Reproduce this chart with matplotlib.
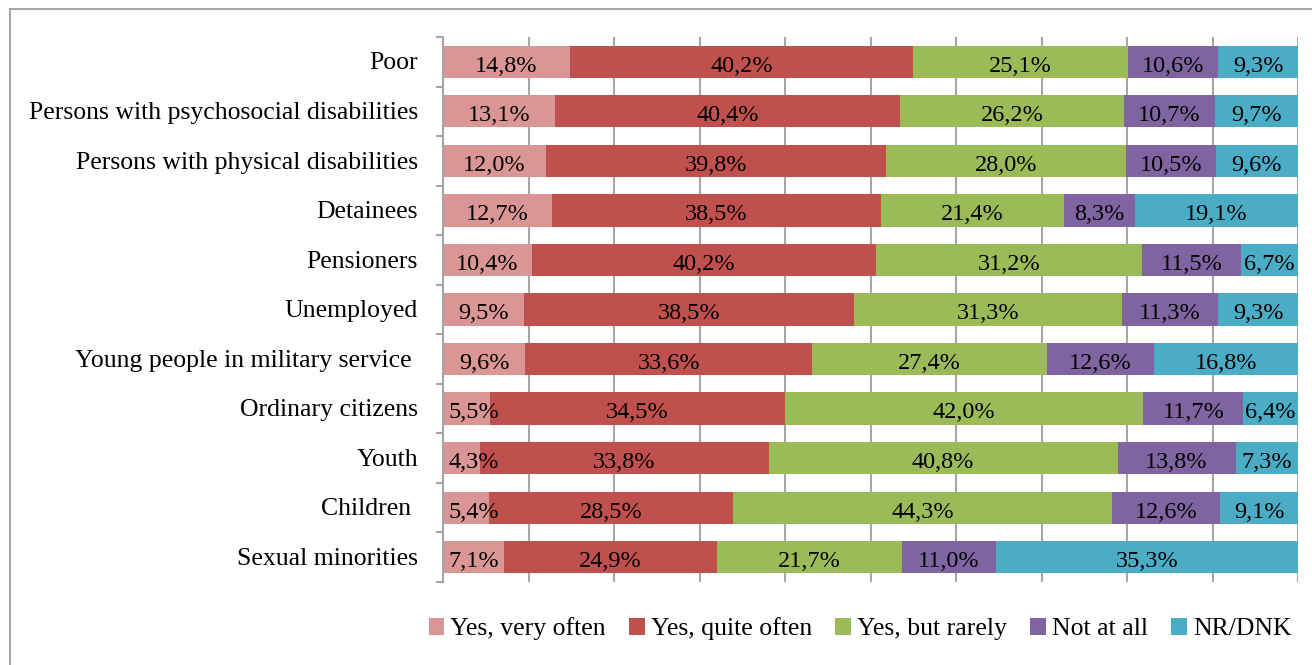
import numpy as np
import matplotlib
matplotlib.use("Agg")
import matplotlib.pyplot as plt
from matplotlib.patches import Patch, Rectangle

plt.rcParams['font.family'] = ['Liberation Serif', 'DejaVu Serif']

categories = ["Poor", "Persons with psychosocial disabilities", "Persons with physical disabilities",
              "Detainees", "Pensioners", "Unemployed", "Young people in military service ",
              "Ordinary citizens", "Youth", "Children ", "Sexual minorities"]
series_names = ["Yes, very often", "Yes, quite often", "Yes, but rarely", "Not at all", "NR/DNK"]
very_often = [14.8, 13.1, 12.0, 12.7, 10.4, 9.5, 9.6, 5.5, 4.3, 5.4, 7.1]
quite_often = [40.2, 40.4, 39.8, 38.5, 40.2, 38.5, 33.6, 34.5, 33.8, 28.5, 24.9]
but_rarely = [25.1, 26.2, 28.0, 21.4, 31.2, 31.3, 27.4, 42.0, 40.8, 44.3, 21.7]
not_at_all = [10.6, 10.7, 10.5, 8.3, 11.5, 11.3, 12.6, 11.7, 13.8, 12.6, 11.0]
nr_dnk = [9.3, 9.7, 9.6, 19.1, 6.7, 9.3, 16.8, 6.4, 7.3, 9.1, 35.3]
colors = ["#D99694", "#C0504D", "#9BBB59", "#8064A2", "#4BACC6"]

W, H = 1312, 665
fig = plt.figure(figsize=(W / 100, H / 100), dpi=100)
fig.patch.set_facecolor("white")
# outer chart border (cropped at right/bottom)
fig.add_artist(Rectangle((10 / W, -0.05), 1.2, 1 - 9 / H + 0.05, transform=fig.transFigure,
                         fill=False, edgecolor="#A6A6A6", linewidth=1.5))

ax_w = 1298 - 443
ax = fig.add_axes([443 / W, 1 - 582 / H, ax_w / W, (582 - 37) / H])
data = np.array([very_often, quite_often, but_rarely, not_at_all, nr_dnk])
totals = data.sum(axis=0)
pct = data / totals * 100
y = np.arange(len(categories))
left = np.zeros(len(categories))
min_off = 3.6  # small labels are kept inside the bar start
for i, name in enumerate(series_names):
    bars = ax.barh(y, pct[i], left=left, height=0.65, color=colors[i], label=name, zorder=2)
    for j, b in enumerate(bars):
        cx = b.get_x() + b.get_width() / 2
        if i == 0:
            cx = max(cx, min_off)
        ax.text(cx, y[j] + 0.2, f"{data[i, j]:.1f}%".replace(".", ","), ha="center", va="baseline",
                fontsize=17.5, color="black", zorder=3)
    left += pct[i]

ax.set_xlim(0, 100)
ax.set_ylim(len(categories) - 0.5, -0.5)
ax.set_xticks(np.arange(10, 101, 10))
ax.xaxis.grid(True, color="#A6A6A6", linewidth=1.5, zorder=0)
ax.set_axisbelow(True)
ax.tick_params(axis="x", length=0, labelbottom=False)
ax.set_yticks(y)
ax.set_yticklabels([])
ax.tick_params(axis="y", which="major", length=0)
for j, cat in enumerate(categories):
    ax.text(-25 / ax_w, y[j] + 0.155, cat, transform=ax.get_yaxis_transform(),
            ha="right", va="baseline", fontsize=18.5)
ax.set_yticks(np.arange(-0.5, len(categories)), minor=True)
ax.tick_params(axis="y", which="minor", length=5, width=1.5, color="#A6A6A6")
for s in ["top", "right", "bottom"]:
    ax.spines[s].set_visible(False)
ax.spines["left"].set_color("#A6A6A6")
ax.spines["left"].set_linewidth(1.5)

handles = [Patch(facecolor=c, edgecolor="none") for c in colors]
fig.legend(handles, series_names, loc="center", bbox_to_anchor=(860 / W, 1 - 629 / H), ncol=5,
           frameon=False, fontsize=18.5, handlelength=0.6, handleheight=0.6,
           handletextpad=0.25, columnspacing=0.9, borderaxespad=0, borderpad=0)

fig.savefig("out.png", dpi=100)
